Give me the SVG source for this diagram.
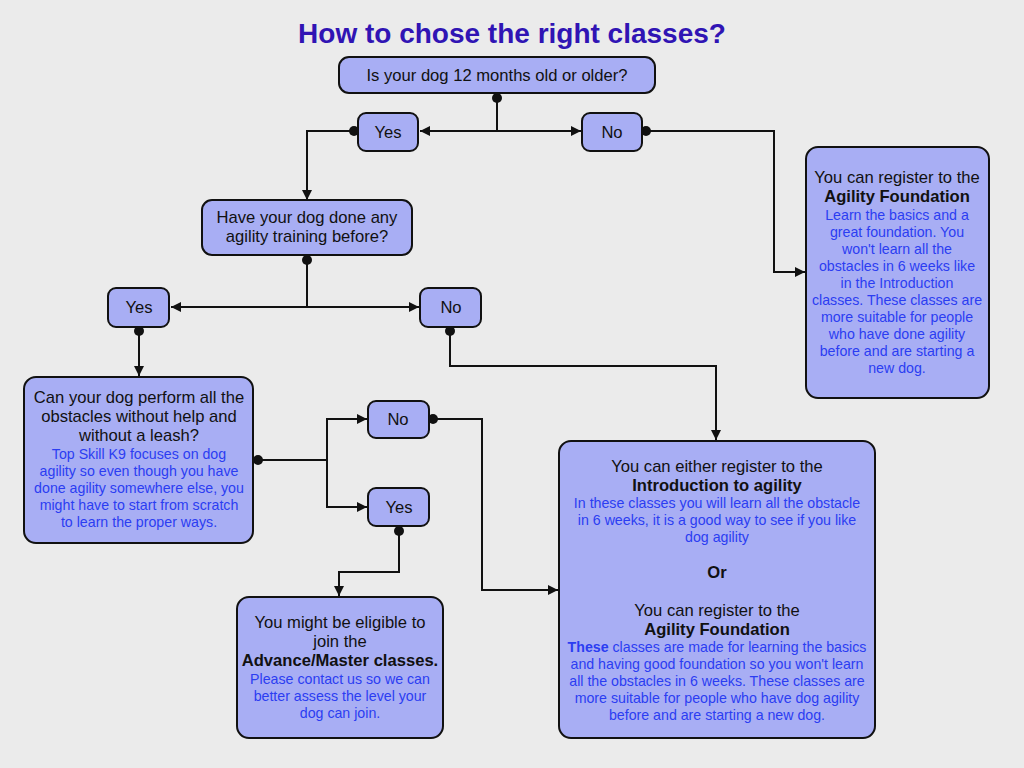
<svg xmlns="http://www.w3.org/2000/svg" width="1024" height="768" viewBox="0 0 1024 768">
<defs>
<style>
.bg{fill:#ebebeb}
.node{fill:#a8aef4;stroke:#111;stroke-width:2}
.t{font-family:"Liberation Sans",Arial,sans-serif;font-size:16.6px;fill:#111;text-anchor:middle}
.b{font-weight:bold}
.s{font-family:"Liberation Sans",Arial,sans-serif;font-size:14.2px;fill:#2b3df2;text-anchor:middle}
.title{font-family:"Liberation Sans",Arial,sans-serif;font-size:28px;font-weight:bold;fill:#3014b4;text-anchor:middle}
.c{fill:none;stroke:#111;stroke-width:2}
</style>
<marker id="arr" viewBox="0 0 10 10" refX="10" refY="5" markerWidth="10" markerHeight="10" markerUnits="userSpaceOnUse" orient="auto">
<path d="M0,0 L10,5 L0,10 z" fill="#111"/>
</marker>
<marker id="dot" viewBox="0 0 10 10" refX="5" refY="5" markerWidth="10" markerHeight="10" markerUnits="userSpaceOnUse" orient="auto">
<circle cx="5" cy="5" r="5" fill="#111"/>
</marker>
</defs>
<rect class="bg" x="0" y="0" width="1024" height="768"/>
<text class="title" x="512" y="43">How to chose the right classes?</text>

<g id="connectors">
<path class="c" d="M497,98 V131" marker-start="url(#dot)"/>
<path class="c" d="M497,131 H420" marker-end="url(#arr)"/>
<path class="c" d="M497,131 H581" marker-end="url(#arr)"/>
<path class="c" d="M354,131 H307 V200" marker-start="url(#dot)" marker-end="url(#arr)"/>
<path class="c" d="M646,131 H774 V272 H805" marker-start="url(#dot)" marker-end="url(#arr)"/>
<path class="c" d="M307,260 V307" marker-start="url(#dot)"/>
<path class="c" d="M307,307 H171" marker-end="url(#arr)"/>
<path class="c" d="M307,307 H419" marker-end="url(#arr)"/>
<path class="c" d="M139,331 V376" marker-start="url(#dot)" marker-end="url(#arr)"/>
<path class="c" d="M450,331 V366 H716 V440" marker-start="url(#dot)" marker-end="url(#arr)"/>
<path class="c" d="M258,460 H327" marker-start="url(#dot)"/>
<path class="c" d="M327,460 V419 H367" marker-end="url(#arr)"/>
<path class="c" d="M327,460 V507 H367" marker-end="url(#arr)"/>
<path class="c" d="M433,419 H482 V590 H558" marker-start="url(#dot)" marker-end="url(#arr)"/>
<path class="c" d="M399,531 V572 H339 V596" marker-start="url(#dot)" marker-end="url(#arr)"/>
</g>

<g id="q-age">
<rect class="node" x="339" y="57" width="316" height="36" rx="10"/>
<text class="t" x="497" y="81">Is your dog 12 months old or older?</text>
</g>
<g id="yes1">
<rect class="node" x="358" y="113" width="60" height="38" rx="8"/>
<text class="t" x="388" y="138">Yes</text>
</g>
<g id="no1">
<rect class="node" x="582" y="113" width="60" height="38" rx="8"/>
<text class="t" x="612" y="138">No</text>
</g>
<g id="q-training">
<rect class="node" x="202" y="200" width="210" height="55" rx="10"/>
<text class="t" x="307" y="223">Have your dog done any</text>
<text class="t" x="307" y="242">agility training before?</text>
</g>
<g id="yes2">
<rect class="node" x="108" y="288" width="61" height="39" rx="8"/>
<text class="t" x="139" y="313">Yes</text>
</g>
<g id="no2">
<rect class="node" x="420" y="288" width="61" height="39" rx="8"/>
<text class="t" x="451" y="313">No</text>
</g>
<g id="agility-foundation">
<rect class="node" x="806" y="147" width="183" height="251" rx="12"/>
<text class="t" x="897" y="183">You can register to the</text>
<text class="t b" x="897" y="202">Agility Foundation</text>
<text class="s" x="897" y="220">Learn the basics and a</text>
<text class="s" x="897" y="237">great foundation. You</text>
<text class="s" x="897" y="254">won't learn all the</text>
<text class="s" x="897" y="271">obstacles in 6 weeks like</text>
<text class="s" x="897" y="288">in the Introduction</text>
<text class="s" x="897" y="305">classes. These classes are</text>
<text class="s" x="897" y="322">more suitable for people</text>
<text class="s" x="897" y="339">who have done agility</text>
<text class="s" x="897" y="356">before and are starting a</text>
<text class="s" x="897" y="373">new dog.</text>
</g>
<g id="q-obstacles">
<rect class="node" x="24" y="377" width="229" height="166" rx="12"/>
<text class="t" x="139" y="403">Can your dog perform all the</text>
<text class="t" x="139" y="422">obstacles without help and</text>
<text class="t" x="139" y="441">without a leash?</text>
<text class="s" x="139" y="459">Top Skill K9 focuses on dog</text>
<text class="s" x="139" y="476">agility so even though you have</text>
<text class="s" x="139" y="493">done agility somewhere else, you</text>
<text class="s" x="139" y="510">might have to start from scratch</text>
<text class="s" x="139" y="527">to learn the proper ways.</text>
</g>
<g id="no3">
<rect class="node" x="368" y="401" width="61" height="37" rx="8"/>
<text class="t" x="398" y="425">No</text>
</g>
<g id="yes3">
<rect class="node" x="368" y="488" width="61" height="38" rx="8"/>
<text class="t" x="399" y="513">Yes</text>
</g>
<g id="advance">
<rect class="node" x="237" y="597" width="206" height="141" rx="12"/>
<text class="t" x="340" y="628">You might be eligible to</text>
<text class="t" x="340" y="647">join the</text>
<text class="t b" x="340" y="666">Advance/Master classes.</text>
<text class="s" x="340" y="684">Please contact us so we can</text>
<text class="s" x="340" y="701">better assess the level your</text>
<text class="s" x="340" y="718">dog can join.</text>
</g>
<g id="introduction">
<rect class="node" x="559" y="441" width="316" height="297" rx="12"/>
<text class="t" x="717" y="472">You can either register to the</text>
<text class="t b" x="717" y="491">Introduction to agility</text>
<text class="s" x="717" y="508">In these classes you will learn all the obstacle</text>
<text class="s" x="717" y="525">in 6 weeks, it is a good way to see if you like</text>
<text class="s" x="717" y="542">dog agility</text>
<text class="t b" x="717" y="578">Or</text>
<text class="t" x="717" y="616">You can register to the</text>
<text class="t b" x="717" y="635">Agility Foundation</text>
<text class="s" x="717" y="652"><tspan font-weight="bold">These</tspan> classes are made for learning the basics</text>
<text class="s" x="717" y="669">and having good foundation so you won't learn</text>
<text class="s" x="717" y="686">all the obstacles in 6 weeks. These classes are</text>
<text class="s" x="717" y="703">more suitable for people who have dog agility</text>
<text class="s" x="717" y="720">before and are starting a new dog.</text>
</g>
</svg>
